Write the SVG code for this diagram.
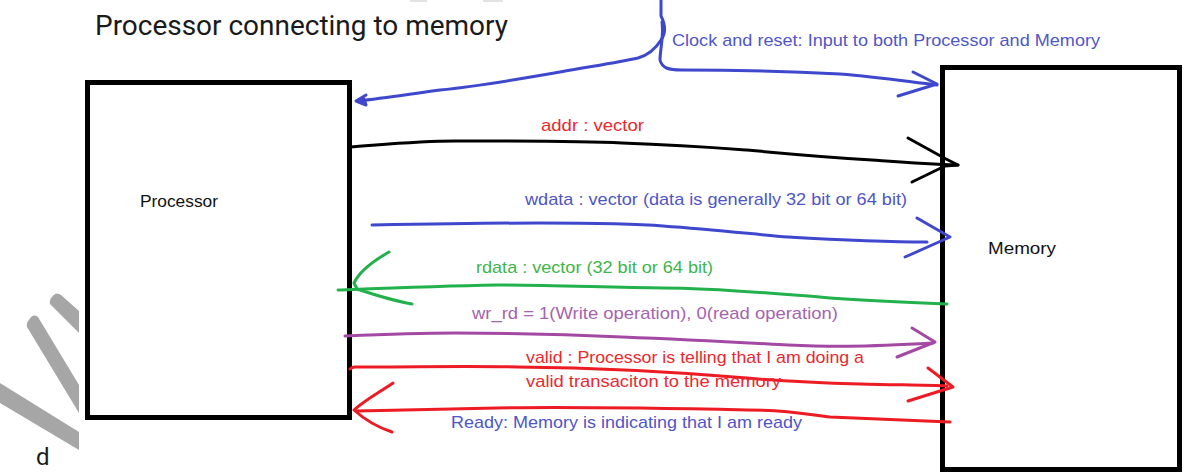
<svg xmlns="http://www.w3.org/2000/svg" width="1202" height="472" viewBox="0 0 1202 472">
  <style>
    .box { fill: #ffffff; stroke: #000000; stroke-width: 5; }
    .wire { fill: none; stroke-width: 3; stroke-linecap: round; stroke-linejoin: round; }
    .lbl { font-family: "Liberation Sans", Arial, sans-serif; font-size: 17px; }
    .nlbl { font-family: "Liberation Sans", Arial, sans-serif; font-size: 16px; fill: #111111; }
    .title { font-family: Roboto, "Liberation Sans", sans-serif; font-size: 27px; fill: #1a1a1a; }
    .blue { stroke: #3f48cc; }
    .black { stroke: #000000; }
    .green { stroke: #22b14c; }
    .purple { stroke: #a349a4; }
    .red { stroke: #ed1c24; }
    .wm { fill: #a6a6a6; }
  </style>
  <rect width="1202" height="472" fill="#ffffff"/>

  <g id="watermark">
    <rect x="410" y="0" width="17" height="2" fill="#e2e2e2"/>
    <rect x="483" y="0" width="20" height="2" fill="#e2e2e2"/>
    <path class="wm" d="M52,297 Q56,291 61,295 L79,311 L79,333 L50,304 Q49,300 52,297 Z"/>
    <path class="wm" d="M29,320 Q33,313 38,317 L79,385 L79,413 L27,327 Q26,323 29,320 Z"/>
    <path class="wm" d="M0,383 L79,432 L79,450 L0,403 Z"/>
  </g>

  <text class="title" x="95" y="35" textLength="413" lengthAdjust="spacingAndGlyphs">Processor connecting to memory</text>
  <text class="title" x="36" y="465" style="font-size:24px">d</text>

  <g id="node-processor">
    <rect class="box" x="87.5" y="82.5" width="262" height="335"/>
    <text class="nlbl" x="140" y="207" textLength="78" lengthAdjust="spacingAndGlyphs">Processor</text>
  </g>

  <g id="node-memory">
    <rect class="box" x="942.5" y="67.5" width="237" height="402"/>
    <text class="nlbl" x="988" y="254" textLength="68" lengthAdjust="spacingAndGlyphs">Memory</text>
  </g>

  <g id="connectors">
    <!-- clock and reset -->
    <path class="wire blue" d="M661,0 L661,16 C664,22 667,32 661,40 C656,48 649,55 638,58 C620,62 600,65 560,72 C520,79 480,86 440,90 C410,94 385,98 358,101"/>
    <path class="wire blue" d="M366,95 L356,101 L366,105 L364,99"/>
    <path class="wire blue" d="M662,22 C664,35 660,50 660,60 C662,68 668,70 682,70 C720,70 780,71 840,74 C880,77 910,82 937,85"/>
    <path class="wire blue" d="M913,72 L937,84 L898,96"/>
    <!-- addr -->
    <path class="wire black" d="M349,147 C390,144 420,141 455,141 C520,141 580,141 622,143 C680,145 720,148 747,150 C800,155 840,158 872,160 C900,162 925,164 958,165"/>
    <path class="wire black" d="M908,138 L946,159 L958,165 L945,166 L912,182"/>
    <!-- wdata -->
    <path class="wire blue" d="M372,225 C430,224 490,223 538,223 C600,223 640,224 663,226 C720,230 760,235 788,237 C840,240 890,242 927,242"/>
    <path class="wire blue" d="M917,218 L950,237 L905,257"/>
    <!-- rdata -->
    <path class="wire green" d="M947,304 C900,302 860,300 830,298 C760,292 700,288 663,288 C600,287 540,285 497,285 C440,286 390,288 338,290"/>
    <path class="wire green" d="M389,252 C375,260 360,270 354,283 L357,289 C375,295 395,301 412,304"/>
    <!-- wr_rd -->
    <path class="wire purple" d="M345,336 C390,334 430,333 455,333 C520,333 580,335 622,337 C700,340 750,343 788,345 C830,347 860,347 933,343"/>
    <path class="wire purple" d="M912,328 L935,342 L897,357"/>
    <!-- valid -->
    <path class="wire red" d="M350,369 C352,367 353,367 355,367 C420,367 470,366 517,367 C620,368 700,374 747,378 C780,381 820,383 860,384 C900,385 925,385 947,386"/>
    <path class="wire red" d="M928,368 L953,387 L908,401"/>
    <!-- Ready -->
    <path class="wire red" d="M950,422 C900,420 860,418 830,417 C800,413 780,410 747,410 C650,408 560,407 497,408 C440,409 400,410 356,411"/>
    <path class="wire red" d="M393,383 C380,392 365,400 354,410 C365,420 380,428 392,432"/>
  </g>

  <g id="labels">
    <text class="lbl" x="672" y="46" fill="#5057c8" textLength="428" lengthAdjust="spacingAndGlyphs">Clock and reset: Input to both Processor and Memory</text>
    <text class="lbl" x="541" y="131" fill="#e62a2f" textLength="103" lengthAdjust="spacingAndGlyphs">addr : vector</text>
    <text class="lbl" x="525" y="205" fill="#4f55c6" textLength="382" lengthAdjust="spacingAndGlyphs">wdata : vector (data is generally 32 bit or 64 bit)</text>
    <text class="lbl" x="476" y="273" fill="#3fb44b" textLength="237" lengthAdjust="spacingAndGlyphs">rdata : vector (32 bit or 64 bit)</text>
    <text class="lbl" x="472" y="319" fill="#a563b0" textLength="366" lengthAdjust="spacingAndGlyphs">wr_rd = 1(Write operation), 0(read operation)</text>
    <text class="lbl" x="526" y="363" fill="#e62a2f" textLength="338" lengthAdjust="spacingAndGlyphs">valid : Processor is telling that I am doing a</text>
    <text class="lbl" x="526" y="387" fill="#e62a2f" textLength="255" lengthAdjust="spacingAndGlyphs">valid transaciton to the memory</text>
    <text class="lbl" x="451" y="428" fill="#4f55c6" textLength="351" lengthAdjust="spacingAndGlyphs">Ready: Memory is indicating that I am ready</text>
  </g>
</svg>
